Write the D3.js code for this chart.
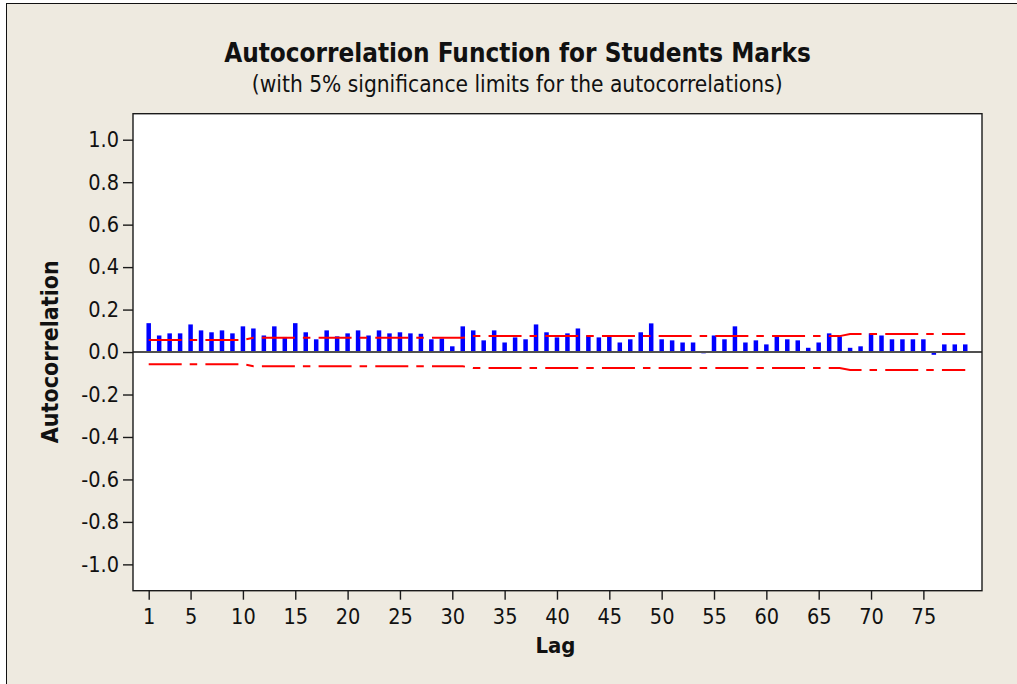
<!DOCTYPE html>
<html><head><meta charset="utf-8">
<script src="https://cdn.jsdelivr.net/npm/d3@7"></script>
<style>html,body{margin:0;padding:0;background:#fff;} svg{display:block;}</style>
</head><body><svg id="chart" width="1017" height="684"></svg>
<script>
// ---- data ----
const lags = [1,2,3,4,5,6,7,8,9,10,11,12,13,14,15,16,17,18,19,20,21,22,23,24,25,26,27,28,29,30,
  31,32,33,34,35,36,37,38,39,40,41,42,43,44,45,46,47,48,49,50,51,52,53,54,55,56,57,58,59,60,
  61,62,63,64,65,66,67,68,69,70,71,72,73,74,75,76,77,78,79];
const acf = [0.136,0.078,0.088,0.088,0.130,0.102,0.093,0.102,0.088,0.121,
  0.111,0.078,0.121,0.071,0.136,0.093,0.060,0.102,0.074,0.088,
  0.102,0.078,0.102,0.088,0.093,0.088,0.086,0.060,0.064,0.027,
  0.121,0.102,0.055,0.102,0.045,0.069,0.060,0.130,0.093,0.069,
  0.088,0.111,0.078,0.069,0.074,0.045,0.060,0.093,0.135,0.060,
  0.055,0.045,0.045,-0.006,0.078,0.060,0.121,0.045,0.055,0.036,
  0.078,0.060,0.055,0.020,0.045,0.088,0.074,0.020,0.027,0.088,
  0.078,0.060,0.060,0.060,0.060,-0.013,0.036,0.036,0.036];
const sigLimit = [0.057,0.057,0.057,0.057,0.057,0.057,0.057,0.057,0.057,0.057,
  0.067,0.067,0.067,0.067,0.067,0.067,0.067,0.067,0.067,0.067,
  0.067,0.067,0.067,0.067,0.067,0.067,0.067,0.067,0.067,0.067,
  0.067,0.075,0.075,0.075,0.075,0.075,0.075,0.075,0.075,0.075,
  0.075,0.075,0.075,0.075,0.075,0.075,0.075,0.075,0.075,0.075,
  0.075,0.075,0.075,0.075,0.075,0.075,0.075,0.075,0.075,0.075,
  0.075,0.075,0.075,0.075,0.075,0.075,0.075,0.085,0.085,0.085,
  0.085,0.085,0.085,0.085,0.085,0.085,0.085,0.085,0.085];
const yTicks = [1.0,0.8,0.6,0.4,0.2,0.0,-0.2,-0.4,-0.6,-0.8,-1.0];
const xTicks = [1,5,10,15,20,25,30,35,40,45,50,55,60,65,70,75];
const titleText = "Autocorrelation Function for Students Marks";
const subtitleText = "(with 5% significance limits for the autocorrelations)";
const xLabel = "Lag";
const yLabel = "Autocorrelation";

// ---- drawing ----
const FONT = '"DejaVu Sans Condensed","DejaVu Sans",sans-serif';
const svg = d3.select("#chart");
const P = {left:133, right:982, top:113.7, bottom:590.7};

svg.append("rect").attr("x",0).attr("y",0).attr("width",1017).attr("height",684).attr("fill","#fff");
svg.append("rect").attr("x",6.5).attr("y",3.5).attr("width",1030).attr("height",700)
  .attr("fill","#EEEAE0").attr("stroke","#111").attr("stroke-width",1);

const x = d3.scaleLinear().domain([-0.5, 80.6]).range([P.left, P.right]);
const y = d3.scaleLinear().domain([-1.124, 1.1225]).range([P.bottom, P.top]);

svg.append("rect").attr("x",P.left).attr("y",P.top)
  .attr("width",P.right-P.left).attr("height",P.bottom-P.top).attr("fill","#fff");

// bars
svg.append("g").selectAll("rect").data(lags).join("rect")
  .attr("x", (d,i)=>x(d)-2.25).attr("width",4.5)
  .attr("y", (d,i)=>y(Math.max(0,acf[i])))
  .attr("height",(d,i)=>Math.abs(y(acf[i])-y(0)))
  .attr("fill","#0000FF");

// zero line
svg.append("line").attr("x1",P.left).attr("x2",P.right)
  .attr("y1",y(0)).attr("y2",y(0)).attr("stroke","#505050").attr("stroke-width",2);

// significance limits
const lineU = d3.line().x((d,i)=>x(d)).y((d,i)=>y(sigLimit[i]));
const lineL = d3.line().x((d,i)=>x(d)).y((d,i)=>y(-sigLimit[i]));
[lineU,lineL].forEach(l=>{
  svg.append("path").attr("d",l(lags)).attr("fill","none").attr("stroke","#FF0000")
    .attr("stroke-width",2).attr("stroke-dasharray","33,8,7.5,8.2");
});

// frame
svg.append("rect").attr("x",P.left).attr("y",P.top)
  .attr("width",P.right-P.left).attr("height",P.bottom-P.top)
  .attr("fill","none").attr("stroke","#1a1a1a").attr("stroke-width",1.4);

// axes
const yAxis = d3.axisLeft(y).tickValues(yTicks).tickFormat(d=>d.toFixed(1)).tickSize(10).tickPadding(4);
const gy = svg.append("g").attr("transform",`translate(${P.left},0)`).call(yAxis);
const xAxis = d3.axisBottom(x).tickValues(xTicks).tickFormat(d=>String(d)).tickSize(9).tickPadding(9);
const gx = svg.append("g").attr("transform",`translate(0,${P.bottom})`).call(xAxis);
[gx,gy].forEach(g=>{
  g.select(".domain").remove();
  g.selectAll(".tick line").attr("stroke","#1a1a1a").attr("stroke-width",1.4);
  g.selectAll(".tick text").attr("fill","#111").attr("font-family",null).attr("font-size",null)
    .style("font-family",FONT).style("font-size","21.5px");
});
gx.attr("font-size",null).attr("font-family",null);
gy.attr("font-size",null).attr("font-family",null);

function fitText(sel, target){
  sel.style("font-size","20px");
  const w = sel.node().getComputedTextLength();
  sel.style("font-size", (20*target/w).toFixed(2)+"px");
}

const t = svg.append("text").attr("x",517.5).attr("y",61.7).attr("text-anchor","middle")
  .style("font-family",FONT).style("font-weight","bold").attr("fill","#111").text(titleText);
fitText(t,587);
const st = svg.append("text").attr("x",517.2).attr("y",92.3).attr("text-anchor","middle")
  .style("font-family",FONT).attr("fill","#111").text(subtitleText);
fitText(st,531);
const xl = svg.append("text").attr("x",555.5).attr("y",653.3).attr("text-anchor","middle")
  .style("font-family",FONT).style("font-weight","bold").attr("fill","#111").text(xLabel);
fitText(xl,40);
const yl = svg.append("text").attr("transform","translate(58,351.7) rotate(-90)").attr("text-anchor","middle")
  .style("font-family",FONT).style("font-weight","bold").attr("fill","#111").text(yLabel);
fitText(yl,183);
</script></body></html>
